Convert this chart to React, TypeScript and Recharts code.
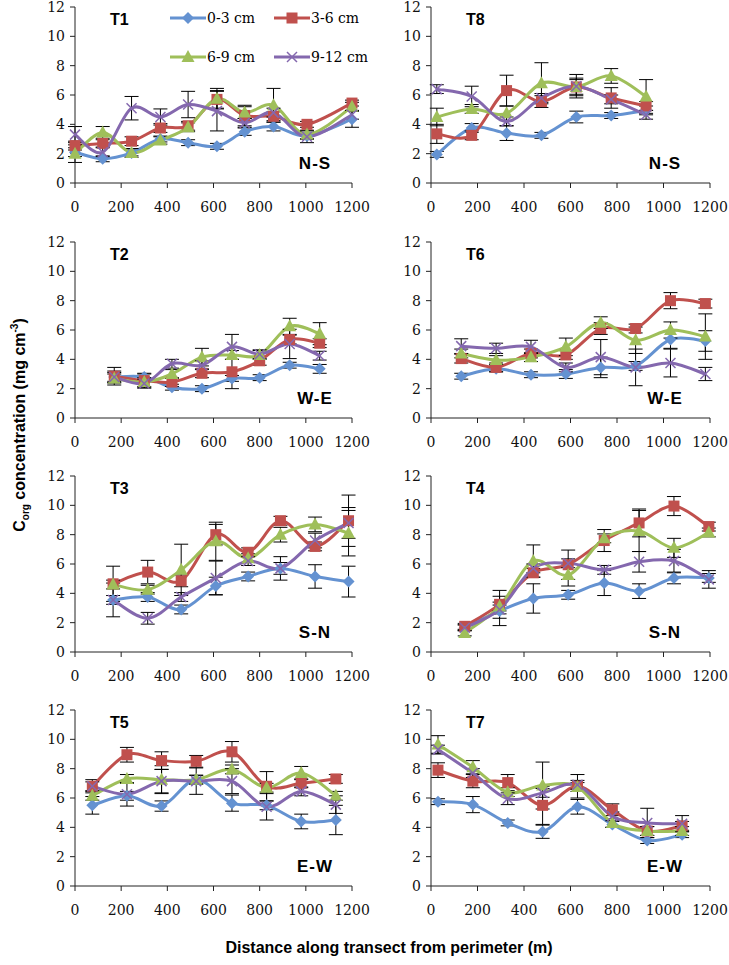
import React from "react";
import { ErrorBar, Line, LineChart, XAxis, YAxis } from "recharts";

// depth classes, same order everywhere: 0-3, 3-6, 6-9, 9-12 cm
const DEPTHS = ["0-3 cm", "3-6 cm", "6-9 cm", "9-12 cm"];
const COLORS = ["#6492d1", "#c0504d", "#9fbf5a", "#8468ae"];
const X_TICKS = [0, 200, 400, 600, 800, 1000, 1200];
const Y_TICKS = [0, 2, 4, 6, 8, 10, 12];

// T1 N-S
const T1_X = [0, 120, 245, 370, 490, 615, 735, 860, 1005, 1200];
const T1_Y = [
  [2.1, 1.65, 2.05, 3.0, 2.75, 2.5, 3.5, 3.85, 3.2, 4.35],
  [2.55, 2.7, 2.85, 3.75, 3.9, 5.7, 4.6, 4.55, 4.0, 5.45],
  [2.0, 3.45, 2.05, 2.9, 3.8, 5.75, 4.8, 5.3, 3.3, 5.2],
  [3.3, 2.1, 5.1, 4.5, 5.35, 4.9, 4.1, 4.8, 3.15, 4.65],
];
const T1_ERR = [
  [0.3, 0.2, 0.2, 0.2, 0.2, 0.2, 0.25, 0.3, 0.2, 0.55],
  [0.3, 0.25, 0.3, 0.3, 0.3, 0.6, 0.7, 0.3, 0.2, 0.2],
  [0.6, 0.4, 0.3, 0.25, 0.3, 0.7, 0.4, 1.15, 0.3, 0.3],
  [0.55, 0.3, 0.8, 0.55, 0.9, 1.35, 0.3, 0.3, 0.4, 0.3],
];

// T8 N-S
const T8_X = [25, 175, 325, 475, 625, 775, 925];
const T8_Y = [
  [1.95, 3.75, 3.4, 3.25, 4.5, 4.6, 4.95],
  [3.35, 3.25, 6.3, 5.55, 6.55, 5.8, 5.25],
  [4.5, 5.05, 4.75, 6.8, 6.55, 7.3, 5.9],
  [6.4, 5.9, 4.2, 5.8, 6.6, 5.7, 4.65],
];
const T8_ERR = [
  [0.2, 0.3, 0.5, 0.2, 0.4, 0.2, 0.3],
  [0.65, 0.3, 1.05, 0.4, 0.5, 0.7, 0.3],
  [0.6, 0.3, 0.5, 1.4, 0.6, 0.5, 1.15],
  [0.3, 0.7, 0.3, 0.3, 0.8, 0.3, 0.3],
];

// T2 W-E
const T2_X = [170, 300, 420, 550, 680, 800, 930, 1060];
const T2_Y = [
  [2.8, 2.8, 2.1, 2.0, 2.7, 2.75, 3.6, 3.35],
  [2.85, 2.55, 2.45, 3.05, 3.15, 3.9, 5.35, 5.1],
  [2.7, 2.45, 3.0, 4.15, 4.3, 4.3, 6.25, 5.75],
  [2.8, 2.35, 3.7, 3.6, 4.85, 4.35, 5.05, 4.25],
];
const T2_ERR = [
  [0.4, 0.2, 0.2, 0.2, 0.2, 0.2, 0.2, 0.3],
  [0.6, 0.5, 0.3, 0.3, 1.15, 0.3, 0.3, 0.3],
  [0.3, 0.3, 0.3, 0.6, 0.3, 0.3, 0.55, 0.75],
  [0.3, 0.3, 0.3, 0.3, 0.85, 0.3, 1.0, 0.3],
];

// T6 W-E
const T6_X = [130, 280, 430, 580, 730, 880, 1030, 1180];
const T6_Y = [
  [2.85, 3.35, 2.95, 3.0, 3.45, 3.55, 5.35, 5.25],
  [4.05, 3.45, 4.4, 4.3, 6.1, 6.1, 8.0, 7.8],
  [4.4, 3.95, 4.15, 4.85, 6.5, 5.3, 6.0, 5.55],
  [4.9, 4.75, 4.85, 3.45, 4.15, 3.45, 3.75, 3.0],
];
const T6_ERR = [
  [0.2, 0.2, 0.2, 0.3, 0.7, 0.3, 0.6, 0.7],
  [0.3, 0.3, 0.3, 0.3, 0.4, 0.3, 0.55, 0.3],
  [0.3, 0.3, 0.3, 0.6, 0.4, 0.9, 0.55, 1.55],
  [0.5, 0.35, 0.45, 0.3, 1.2, 1.25, 0.95, 0.45],
];

// T3 S-N
const T3_X = [165, 315, 460, 610, 750, 890, 1040, 1185];
const T3_Y = [
  [3.55, 3.75, 2.9, 4.5, 5.15, 5.7, 5.15, 4.8],
  [4.65, 5.45, 4.85, 8.0, 6.8, 8.95, 7.2, 8.95],
  [4.6, 4.25, 5.6, 7.55, 6.4, 8.0, 8.7, 8.1],
  [3.55, 2.3, 3.75, 5.05, 6.2, 5.7, 7.6, 8.8],
];
const T3_ERR = [
  [1.15, 0.3, 0.3, 0.6, 0.3, 0.8, 0.8, 1.05],
  [1.2, 0.8, 0.4, 0.7, 0.3, 0.3, 0.3, 1.75],
  [0.3, 0.3, 1.75, 1.3, 0.3, 0.5, 0.5, 1.55],
  [0.3, 0.4, 0.3, 1.15, 0.3, 0.4, 0.5, 1.05],
];

// T4 S-N
const T4_X = [145, 295, 440, 590, 745, 895, 1045, 1195];
const T4_Y = [
  [1.65, 2.8, 3.65, 3.9, 4.7, 4.15, 5.05, 5.05],
  [1.75, 3.25, 5.4, 5.95, 7.6, 8.8, 9.95, 8.55],
  [1.3, 3.1, 6.2, 5.25, 7.75, 8.25, 7.1, 8.15],
  [1.65, 2.9, 5.7, 6.05, 5.6, 6.15, 6.2, 4.95],
];
const T4_ERR = [
  [0.2, 1.0, 1.0, 0.3, 0.85, 0.5, 0.4, 0.3],
  [0.2, 0.95, 0.3, 1.0, 0.75, 0.95, 0.65, 0.3],
  [0.2, 0.3, 1.1, 0.75, 0.3, 1.4, 0.65, 0.3],
  [0.2, 0.3, 0.3, 0.3, 0.3, 0.7, 0.8, 0.6],
];

// T5 E-W
const T5_X = [75, 225, 375, 525, 680, 830, 980, 1130];
const T5_Y = [
  [5.5, 6.15, 5.45, 7.25, 5.65, 5.5, 4.4, 4.5],
  [6.8, 8.95, 8.55, 8.5, 9.15, 6.8, 7.0, 7.3],
  [6.15, 7.3, 7.25, 7.25, 7.95, 6.7, 7.7, 6.15],
  [6.8, 6.25, 7.15, 7.15, 7.15, 5.4, 6.45, 5.55],
];
const T5_ERR = [
  [0.6, 0.3, 0.35, 0.3, 0.55, 0.3, 0.5, 1.0],
  [0.45, 0.5, 0.6, 0.4, 0.7, 1.0, 0.3, 0.3],
  [0.3, 0.3, 0.95, 0.3, 0.3, 0.3, 0.45, 0.3],
  [0.3, 0.8, 0.8, 0.9, 0.85, 0.9, 0.3, 0.6],
];

// T7 E-W
const T7_X = [30, 180, 330, 480, 630, 780, 930, 1080];
const T7_Y = [
  [5.75, 5.55, 4.3, 3.7, 5.4, 4.2, 3.1, 3.5],
  [7.9, 7.15, 7.05, 5.5, 6.8, 5.2, 3.75, 4.1],
  [9.65, 8.1, 6.4, 6.85, 6.75, 4.3, 3.75, 3.75],
  [9.3, 7.7, 5.95, 6.35, 6.9, 4.75, 4.3, 4.25],
];
const T7_ERR = [
  [0.2, 0.55, 0.2, 0.45, 0.5, 0.2, 0.2, 0.2],
  [0.5, 0.45, 0.55, 1.3, 0.8, 0.4, 0.3, 0.3],
  [0.6, 0.45, 0.3, 1.6, 0.3, 0.3, 0.3, 0.3],
  [0.3, 0.3, 0.4, 0.3, 0.3, 0.3, 1.0, 0.55],
];

const PANELS = [
  { name: "T1", dir: "N-S", x: T1_X, y: T1_Y, err: T1_ERR, col: 0, row: 0 },
  { name: "T8", dir: "N-S", x: T8_X, y: T8_Y, err: T8_ERR, col: 1, row: 0 },
  { name: "T2", dir: "W-E", x: T2_X, y: T2_Y, err: T2_ERR, col: 0, row: 1 },
  { name: "T6", dir: "W-E", x: T6_X, y: T6_Y, err: T6_ERR, col: 1, row: 1 },
  { name: "T3", dir: "S-N", x: T3_X, y: T3_Y, err: T3_ERR, col: 0, row: 2 },
  { name: "T4", dir: "S-N", x: T4_X, y: T4_Y, err: T4_ERR, col: 1, row: 2 },
  { name: "T5", dir: "E-W", x: T5_X, y: T5_Y, err: T5_ERR, col: 0, row: 3 },
  { name: "T7", dir: "E-W", x: T7_X, y: T7_Y, err: T7_ERR, col: 1, row: 3 },
];

// layout
const ROW_TOP = [7, 242, 476, 710];
const PLOT_H = 176;
const COLS = [
  { left: 0, width: 370, axisW: 75, right: 18 },
  { left: 370, width: 359, axisW: 61, right: 19 },
];
const TOP_PAD = 7;
const X_AXIS_H = 35;

const SERIF = "'DejaVu Serif', 'Liberation Serif', serif";
const SANS = "'Liberation Sans', Arial, sans-serif";

// Excel-like smoothing (Catmull-Rom / cardinal with tension 0)
const excelSmooth: any = (ctx: any) => {
  let pts: number[][] = [];
  return {
    areaStart() {},
    areaEnd() {},
    lineStart() {
      pts = [];
    },
    lineEnd() {
      if (!pts.length) return;
      ctx.moveTo(pts[0][0], pts[0][1]);
      for (let i = 0; i < pts.length - 1; i++) {
        const p0 = pts[i - 1] || pts[i];
        const p1 = pts[i];
        const p2 = pts[i + 1];
        const p3 = pts[i + 2] || p2;
        ctx.bezierCurveTo(
          p1[0] + (p2[0] - p0[0]) / 6,
          p1[1] + (p2[1] - p0[1]) / 6,
          p2[0] - (p3[0] - p1[0]) / 6,
          p2[1] - (p3[1] - p1[1]) / 6,
          p2[0],
          p2[1]
        );
      }
    },
    point(x: number, y: number) {
      pts.push([+x, +y]);
    },
  };
};

function Marker({ cx, cy, kind, color }: { cx: number; cy: number; kind: number; color: string }) {
  if (cx == null || cy == null || isNaN(cx) || isNaN(cy)) return <g />;
  if (kind === 0)
    return <polygon points={`${cx},${cy - 6} ${cx + 6},${cy} ${cx},${cy + 6} ${cx - 6},${cy}`} fill={color} />;
  if (kind === 1) return <rect x={cx - 5.5} y={cy - 5.5} width={11} height={11} fill={color} />;
  if (kind === 2)
    return <polygon points={`${cx},${cy - 7} ${cx + 6.5},${cy + 5} ${cx - 6.5},${cy + 5}`} fill={color} />;
  return (
    <g stroke={color} strokeWidth={1.5}>
      <line x1={cx - 5} y1={cy - 5} x2={cx + 5} y2={cy + 5} />
      <line x1={cx - 5} y1={cy + 5} x2={cx + 5} y2={cy - 5} />
    </g>
  );
}

const XTick = (props: any) => (
  <text
    x={props.x}
    y={props.y}
    dy="0.71em"
    textAnchor="middle"
    fill="#111"
    fontSize={14}
    fontFamily={SERIF}
    style={{ fontFamily: SERIF }}
  >
    {props.payload.value}
  </text>
);

const YTick = (props: any) => (
  <text
    x={props.x}
    y={props.y}
    dy="0.355em"
    textAnchor="end"
    fill="#111"
    fontSize={14}
    fontFamily={SERIF}
    style={{ fontFamily: SERIF }}
  >
    {props.payload.value}
  </text>
);

function Panel({ p }: { p: (typeof PANELS)[number] }) {
  const c = COLS[p.col];
  const data = p.x.map((x, i) => ({
    x,
    v0: p.y[0][i],
    v1: p.y[1][i],
    v2: p.y[2][i],
    v3: p.y[3][i],
    e0: p.err[0][i],
    e1: p.err[1][i],
    e2: p.err[2][i],
    e3: p.err[3][i],
  }));
  const top = ROW_TOP[p.row] - TOP_PAD;
  const plotLeft = c.left + c.axisW;
  return (
    <>
      <div style={{ position: "absolute", left: c.left, top, fontFamily: SERIF }}>
        <LineChart
          width={c.width}
          height={TOP_PAD + PLOT_H + X_AXIS_H}
          data={data}
          margin={{ top: TOP_PAD, right: c.right, left: 0, bottom: 0 }}
          style={{ fontFamily: SERIF }}
        >
          <XAxis
            dataKey="x"
            type="number"
            domain={[0, 1200]}
            ticks={X_TICKS}
            tick={XTick}
            tickSize={5}
            tickMargin={14}
            height={X_AXIS_H}
            axisLine={{ stroke: "#222" }}
            tickLine={{ stroke: "#222" }}
            interval={0}
          />
          <YAxis
            type="number"
            domain={[0, 12]}
            ticks={Y_TICKS}
            tick={YTick}
            tickSize={5}
            tickMargin={5}
            width={c.axisW}
            axisLine={{ stroke: "#222" }}
            tickLine={{ stroke: "#222" }}
            interval={0}
          />
          {[0, 1, 2, 3].map((k) => (
            <Line
              key={k}
              dataKey={`v${k}`}
              type={excelSmooth}
              stroke={COLORS[k]}
              strokeWidth={3}
              isAnimationActive={false}
              dot={(d: any) => <Marker key={`m${k}-${d.index}`} cx={d.cx} cy={d.cy} kind={k} color={COLORS[k]} />}
              activeDot={false}
            >
              <ErrorBar dataKey={`e${k}`} direction="y" width={7} stroke="#000" strokeWidth={1} />
            </Line>
          ))}
        </LineChart>
      </div>
      <div
        style={{
          position: "absolute",
          left: plotLeft + 35,
          top: ROW_TOP[p.row] + 13,
          transform: "translateY(-50%)",
          font: `bold 16px ${SANS}`,
          lineHeight: 1,
        }}
      >
        {p.name}
      </div>
      <div
        style={{
          position: "absolute",
          left: plotLeft + (p.col === 0 ? 240 : 234),
          top: ROW_TOP[p.row] + PLOT_H - 20,
          transform: "translate(-50%, -50%)",
          font: `bold 17px ${SANS}`,
          lineHeight: 1,
          letterSpacing: 1,
          whiteSpace: "nowrap",
        }}
      >
        {p.dir}
      </div>
    </>
  );
}

function LegendItem({ k, x, y }: { k: number; x: number; y: number }) {
  return (
    <div style={{ position: "absolute", left: x, top: y, height: 0 }}>
      <svg width={36} height={16} style={{ position: "absolute", left: 0, top: -8 }}>
        <line x1={0} y1={8} x2={36} y2={8} stroke={COLORS[k]} strokeWidth={3} />
        <Marker cx={18} cy={8} kind={k} color={COLORS[k]} />
      </svg>
      <span
        style={{
          position: "absolute",
          left: 37,
          top: 0,
          transform: "translateY(-50%)",
          font: `14px ${SERIF}`,
          lineHeight: 1,
          whiteSpace: "nowrap",
        }}
      >
        {DEPTHS[k]}
      </span>
    </div>
  );
}

export default function App() {
  return (
    <div
      style={{
        position: "absolute",
        left: 0,
        top: 0,
        width: 729,
        height: 965,
        background: "#fff",
        overflow: "hidden",
      }}
    >
      {PANELS.map((p) => (
        <Panel key={p.name} p={p} />
      ))}
      <LegendItem k={0} x={170} y={18} />
      <LegendItem k={1} x={274} y={18} />
      <LegendItem k={2} x={170} y={57} />
      <LegendItem k={3} x={274} y={57} />
      <div
        style={{
          position: "absolute",
          left: 20,
          top: 425,
          transform: "translate(-50%, -50%) rotate(-90deg)",
          font: `bold 16px ${SANS}`,
          whiteSpace: "nowrap",
        }}
      >
        C<sub style={{ fontSize: 10 }}>org</sub> concentration (mg cm<sup style={{ fontSize: 10 }}>-3</sup>)
      </div>
      <div
        style={{
          position: "absolute",
          left: 389,
          top: 948,
          transform: "translate(-50%, -50%)",
          font: `bold 16px ${SANS}`,
          whiteSpace: "nowrap",
        }}
      >
        Distance along transect from perimeter (m)
      </div>
    </div>
  );
}
